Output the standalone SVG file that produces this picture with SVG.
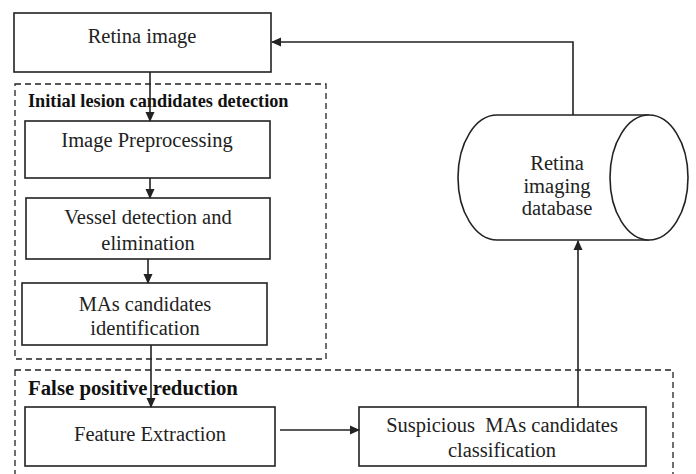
<svg xmlns="http://www.w3.org/2000/svg" width="696" height="474" viewBox="0 0 696 474">
<defs>
<marker id="ah" markerWidth="10" markerHeight="10" refX="9" refY="5" orient="auto" markerUnits="userSpaceOnUse">
<path d="M0,0.5 L10,5 L0,9.5 Z" fill="#222"/>
</marker>
<style>
.box{fill:#fff;stroke:#222;stroke-width:1.6}
.grp{fill:none;stroke:#222;stroke-width:1.3;stroke-dasharray:6,4}
.t{font-family:"Liberation Serif","Times New Roman",serif;font-size:20.5px;fill:#222;text-anchor:middle}
.h{font-family:"Liberation Serif","Times New Roman",serif;font-weight:bold;fill:#111}
.c{fill:none;stroke:#222;stroke-width:1.6}
</style>
</defs>
<rect width="696" height="474" fill="#fff"/>
<g id="group-initial">
<rect class="grp" x="15" y="84" width="311" height="275"/>
<text class="h" x="28" y="107" font-size="18.3">Initial lesion candidates detection</text>
</g>
<g id="group-fpr">
<rect class="grp" x="15" y="370" width="658" height="110"/>
<text class="h" x="28" y="395" font-size="20.8">False positive reduction</text>
</g>
<g id="retina-image">
<rect class="box" x="14" y="13" width="257" height="59"/>
<text class="t" x="142" y="43">Retina image</text>
</g>
<g id="preprocessing">
<rect class="box" x="25" y="121" width="245" height="57"/>
<text class="t" x="147" y="147">Image Preprocessing</text>
</g>
<g id="vessel">
<rect class="box" x="26" y="198" width="244" height="61"/>
<text class="t" x="148" y="224">Vessel detection and</text>
<text class="t" x="148" y="250">elimination</text>
</g>
<g id="mas">
<rect class="box" x="22" y="283" width="245" height="62"/>
<text class="t" x="145" y="311">MAs candidates</text>
<text class="t" x="145" y="335">identification</text>
</g>
<g id="feature">
<rect class="box" x="25" y="407" width="250" height="59"/>
<text class="t" x="150" y="441">Feature Extraction</text>
</g>
<g id="suspicious">
<rect class="box" x="359" y="407" width="287" height="59"/>
<text class="t" x="502" y="432" xml:space="preserve">Suspicious  MAs candidates</text>
<text class="t" x="502" y="457">classification</text>
</g>
<g id="database">
<path class="box" d="M649,115 L497,115 A39,62.5 0 0 0 497,240 L649,240"/>
<ellipse class="box" cx="649" cy="177.5" rx="39" ry="62.5"/>
<text class="t" x="557" y="170">Retina</text>
<text class="t" x="557" y="193">imaging</text>
<text class="t" x="557" y="215">database</text>
</g>
<g id="connectors">
<line class="c" x1="150" y1="72" x2="150" y2="121" marker-end="url(#ah)"/>
<line class="c" x1="150" y1="178" x2="150" y2="198" marker-end="url(#ah)"/>
<line class="c" x1="148" y1="259" x2="148" y2="283" marker-end="url(#ah)"/>
<line class="c" x1="151" y1="345" x2="151" y2="407" marker-end="url(#ah)"/>
<line class="c" x1="280" y1="430" x2="359" y2="430" marker-end="url(#ah)"/>
<line class="c" x1="578" y1="407" x2="578" y2="241" marker-end="url(#ah)"/>
<polyline class="c" points="573,115 573,42 272,42" marker-end="url(#ah)"/>
</g>
</svg>
